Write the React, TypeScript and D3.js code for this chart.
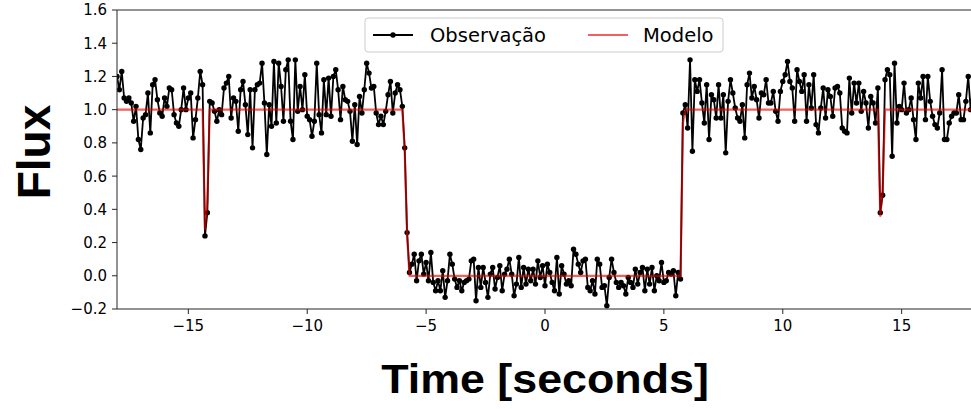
import React from "react";
import * as d3 from "d3";

const W = 971;
const H = 409;

// Sampling grid of the observation (seconds)
const T_START = -18;
const T_STEP = 0.1;

const fluxBeforeDip1 = [1.20,1.12,1.23,1.07,1.05,1.07,1.04,0.93,1.02,0.82,0.76,0.95,0.97,1.10,0.86,1.15,1.18,1.06,0.98,0.96,1.07,1.02,1.13,1.12,0.97,0.92,0.90,1.00,1.13,1.00,1.07,1.10,0.83,0.94,1.07,1.23,1.15];
const fluxDip1 = [0.24, 0.38];
const fluxAfterDip1 = [1.05,1.04,0.99,0.93,1.00,0.97,1.13,1.16,1.20,0.95,1.07,1.05,0.87,1.12,1.17,1.03,0.85,1.12,0.77,1.12,1.15];
const fluxBeforeTransit = [1.16,1.28,1.04,0.73,1.03,0.90,1.29,0.92,1.28,1.14,0.93,1.24,1.30,0.93,0.82,1.30,0.99,1.14,1.00,1.21,0.96,0.94,0.84,0.93,1.28,0.97,0.86,1.18,0.97,1.19,0.96,1.20,1.24,1.12,0.94,1.14,1.06,1.05,0.99,0.81,1.03,0.79,1.08,0.98,1.12,1.28,1.22,1.13,1.14,0.98,0.91,0.96,0.91,0.99,1.09,1.17,0.98,1.10,1.15,1.12,1.02];
const fluxIngress = [0.77, 0.26, 0.02];
const fluxTransitA = [0.07,0.13,-0.03,0.09,0.13,0.01,0.08,-0.03,0.14,-0.04,-0.09,-0.03,-0.09,0.03,-0.13,-0.03,0.13,0.07,-0.02,-0.07,-0.03,-0.09,-0.04,-0.03,-0.02,0.09,0.10,-0.15,0.05,-0.07,0.05,-0.04,-0.13,0.01,0.05,-0.08,-0.01,0.06,-0.09,0.01,0.04,0.10,0.01,-0.12,-0.05,0.11,-0.07,0.05,-0.05,0.04,-0.03,0.04,-0.05,0.09,-0.01];
const fluxTransitB = [0.06,-0.06,0.07,0.02,-0.04,-0.09,0.11,-0.11,0.06,0.01,-0.05,-0.03,-0.06,0.16,0.13,0.07,0.02,0.09,0.10,-0.07,-0.09,-0.03,-0.11,0.10,0.07,-0.07,-0.06,-0.18,-0.01,0.10,0.02,-0.04,-0.07,-0.04,-0.06,-0.11,-0.01,-0.04,-0.07,0.04,-0.05,0.02,0.05,-0.09,0.04,-0.05,0.05,-0.09,0.00,-0.03,0.08,-0.04,-0.03,0.02,0.01,0.03,-0.12,0.02,-0.02];
const fluxEgress = [0.98];
const fluxAfterTransit = [1.03,0.89,1.30,0.75,1.18,1.11,1.18,1.04,0.92,1.15,0.82,1.09,1.06,0.95,1.15,0.95,1.09,0.74,1.05,1.18,1.10,1.01,0.95,0.93,1.03,0.83,1.15,1.22,1.07,1.14,1.06,0.95,1.10,1.09,1.18,1.04,1.04,1.11,0.99,0.93,1.11,1.17,1.21,1.29,1.17,1.13,0.93,1.24,1.17,1.11,1.21,0.93,1.15,1.01,1.21,0.91,0.86];
const fluxBeforeDip2 = [1.01,1.13,0.95,1.12,1.08,0.96,1.13,1.14,1.10,0.89,0.87,0.86,1.19,0.98,1.16,1.04,1.16,0.99,1.11,1.04,0.89,1.08,1.04,0.92,1.13];
const fluxDip2 = [0.38, 0.485];
const fluxAfterDip2 = [1.18,1.24,1.21,0.72,1.28,0.92,1.02,1.00,1.16,0.98,1.00,1.07,0.94,0.82,1.16,1.07,1.20,0.94,1.20,1.05,0.96,0.91,0.89,0.98,1.24,0.82,0.82,0.92,0.96,0.98,0.98,1.09,0.94,0.94,1.05,1.20,1.00,1.06];

// Model (breakpoints)
const modelTime = [-18, -14.4, -14.3, -14.2, -14.1, -6.0, -5.9, -5.8, -5.7, 5.7, 5.8, 5.9, 14.0, 14.1, 14.2, 14.3, 18];
const modelFlux = [1, 1, 0.28, 0.45, 1, 1, 0.75, 0.25, 0, 0, 0.92, 1, 1, 0.36, 0.52, 1, 1];

// Axis ticks
const xTicks = [-15, -10, -5, 0, 5, 10, 15];
const yTicks = [-0.2, 0.0, 0.2, 0.4, 0.6, 0.8, 1.0, 1.2, 1.4, 1.6];

const legendLabels = ["Observação", "Modelo"];

const observedFlux = [
  ...fluxBeforeDip1, ...fluxDip1, ...fluxAfterDip1, ...fluxBeforeTransit,
  ...fluxIngress, ...fluxTransitA, ...fluxTransitB, ...fluxEgress,
  ...fluxAfterTransit, ...fluxBeforeDip2, ...fluxDip2, ...fluxAfterDip2,
];

export default function App() {
  const L = 117, R = 973, T = 10, B = 309;
  const x = d3.scaleLinear().domain([-18, 18]).range([L, R]);
  const y = d3.scaleLinear().domain([-0.2, 1.6]).range([B, T]);

  const obs = observedFlux.map((f, i) => ({ t: T_START + i * T_STEP, f }));
  const model = modelTime.map((t, i) => ({ t, f: modelFlux[i] }));

  const line = d3.line<{ t: number; f: number }>().x(d => x(d.t)).y(d => y(d.f));

  const fmtY = (v: number) => (v < 0 ? "\u2212" : "") + Math.abs(v).toFixed(1);
  const fmtX = (v: number) => (v < 0 ? "\u2212" : "") + Math.abs(v);

  const tickFont = "'DejaVu Sans', sans-serif";
  const spine = "#262626";
  const modelColor = "rgba(228, 0, 0, 0.62)";
  const tickSize = 15;

  return (
    <svg width={W} height={H} style={{ position: "absolute", left: 0, top: 0, background: "#fff" }}>
      <defs>
        <clipPath id="plotClip">
          <rect x={L} y={T} width={R - L} height={B - T} />
        </clipPath>
      </defs>
      <rect x={0} y={0} width={W} height={H} fill="#fff" />

      <g clipPath="url(#plotClip)">
        <path d={line(obs) || ""} fill="none" stroke="#000" strokeWidth={1.8} strokeLinejoin="round" />
        {obs.map((d, i) => (
          <circle key={i} cx={x(d.t)} cy={y(d.f)} r={2.7} fill="#000" />
        ))}
        <path d={line(model) || ""} fill="none" stroke={modelColor} strokeWidth={2.2} strokeLinejoin="round" />
      </g>

      {/* spines */}
      <line x1={L} x2={L} y1={T} y2={B} stroke={spine} strokeWidth={1} />
      <line x1={L} x2={R} y1={B} y2={B} stroke={spine} strokeWidth={1} />
      <line x1={L} x2={R} y1={T} y2={T} stroke={spine} strokeWidth={1} />
      <line x1={R} x2={R} y1={T} y2={B} stroke={spine} strokeWidth={1} />

      {/* y ticks */}
      {yTicks.map(v => (
        <g key={"y" + v}>
          <line x1={L - 5} x2={L} y1={y(v)} y2={y(v)} stroke={spine} strokeWidth={1} />
          <text x={L - 10} y={y(v)} dy="0.36em" textAnchor="end" fontFamily={tickFont} fontSize={tickSize} fill="#000">
            {fmtY(v)}
          </text>
        </g>
      ))}

      {/* x ticks */}
      {xTicks.map(v => (
        <g key={"x" + v}>
          <line x1={x(v)} x2={x(v)} y1={B} y2={B + 5} stroke={spine} strokeWidth={1} />
          <text x={x(v)} y={331} textAnchor="middle" fontFamily={tickFont} fontSize={tickSize} fill="#000">
            {fmtX(v)}
          </text>
        </g>
      ))}

      {/* axis titles */}
      <text
        transform={`translate(50,152) rotate(-90)`}
        textAnchor="middle"
        fontFamily="'Liberation Sans', Arial, sans-serif"
        fontWeight="bold"
        fontSize={46}
        fill="#000"
      >
        Flux
      </text>
      <text
        transform={`translate(545,393) scale(1.12,1)`}
        textAnchor="middle"
        fontFamily="'Liberation Sans', Arial, sans-serif"
        fontWeight="bold"
        fontSize={40}
        fill="#000"
      >
        Time [seconds]
      </text>

      {/* legend */}
      <g>
        <rect x={365} y={18} width={358} height={34} rx={3} ry={3} fill="rgba(255,255,255,0.8)" stroke="#cccccc" strokeWidth={1} />
        <line x1={373} x2={413} y1={35} y2={35} stroke="#000" strokeWidth={1.8} />
        <circle cx={393} cy={35} r={2.7} fill="#000" />
        <text x={430} y={42} fontFamily={tickFont} fontSize={19.5} fill="#000">{legendLabels[0]}</text>
        <line x1={588} x2={628} y1={35} y2={35} stroke={modelColor} strokeWidth={2.2} />
        <text x={643} y={42} fontFamily={tickFont} fontSize={19.5} fill="#000">{legendLabels[1]}</text>
      </g>
    </svg>
  );
}
